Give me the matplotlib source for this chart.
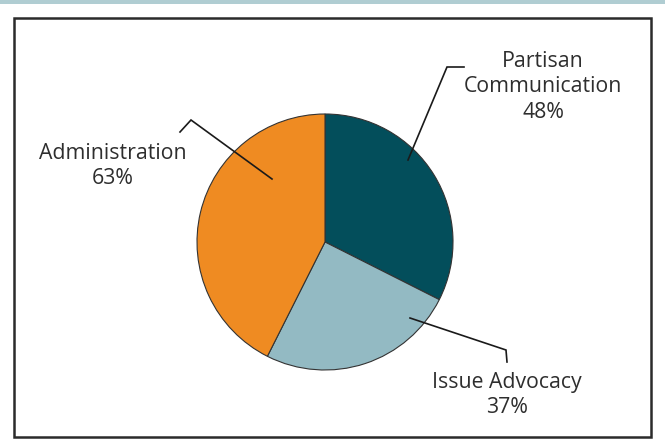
import numpy as np
import matplotlib.pyplot as plt
from matplotlib.patches import Rectangle

# spending shares shown on the pie
labels = ["Partisan\nCommunication", "Issue Advocacy", "Administration"]
values = [48, 37, 63]
colors = ["#034e5b", "#93bac3", "#ef8b22"]

W, H = 665, 442
plt.rcParams['font.family'] = ['Open Sans', 'DejaVu Sans']

fig = plt.figure(figsize=(W / 100, H / 100), dpi=100)
ax = fig.add_axes([0, 0, 1, 1])
ax.set_xlim(0, W)
ax.set_ylim(0, H)
ax.set_aspect('equal')
ax.axis('off')


def py(y):
    # pixel rows counted from the top
    return H - y


# header strip and frame
ax.add_patch(Rectangle((0, py(4)), W, 4, color="#b0cdd2", lw=0))
ax.add_patch(Rectangle((14, py(437)), 651 - 14, 437 - 18, fill=False,
                       ec="#2b2b2b", lw=1.8))

ax.pie(values, colors=colors, startangle=90, counterclock=False,
       center=(325, py(242)), radius=128, frame=True,
       wedgeprops=dict(edgecolor="#333333", linewidth=0.8))
ax.set_xlim(0, W)
ax.set_ylim(0, H)
ax.axis('off')

# leader lines: start inside the wedge, bend, end near the label
leaders = [
    [(408, 160), (447, 67), (464, 67)],
    [(410, 318), (506, 350), (507, 362)],
    [(272, 179), (191, 120), (180, 132)],
]
text_pos = [(543, 87), (507, 395), (113, 166)]

for pts, (tx, ty), lab, v in zip(leaders, text_pos, labels, values):
    xs = [p[0] for p in pts]
    ys = [py(p[1]) for p in pts]
    ax.plot(xs, ys, color="#1a1a1a", lw=1.2, solid_joinstyle='miter')
    ax.text(tx, py(ty), f"{lab}\n{v}%", ha='center', va='center',
            fontsize=15.3, color="#2e2e2e", linespacing=1.3)

fig.savefig("out.png", dpi=100)
